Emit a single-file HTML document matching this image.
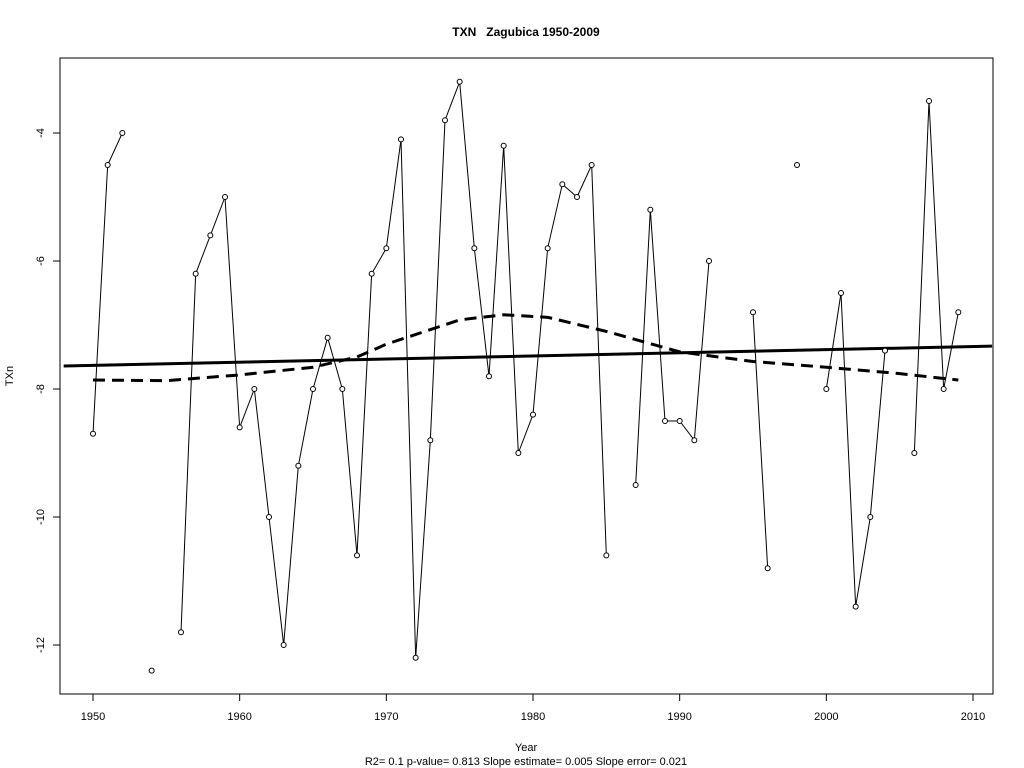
<!DOCTYPE html>
<html><head><meta charset="utf-8"><style>
body{margin:0;background:#fff}
svg{display:block;font-family:"Liberation Sans",Arial,sans-serif}
</style></head><body>
<svg id="chart" width="1024" height="768">
<rect x="0" y="0" width="1024" height="768" fill="#fff"/>
<text x="526" y="36" text-anchor="middle" font-size="12" font-weight="bold" xml:space="preserve">TXN   Zagubica 1950-2009</text>
<rect x="60" y="58" width="933" height="636" fill="none" stroke="#000"/>
<text x="526" y="751" text-anchor="middle" font-size="11">Year</text>
<text x="526" y="765" text-anchor="middle" font-size="11">R2= 0.1  p-value= 0.813  Slope estimate= 0.005  Slope error= 0.021</text>
<text transform="translate(13,376) rotate(-90)" text-anchor="middle" font-size="11">TXn</text>
<g id="axes"></g><g id="marks"></g>
</svg>
<script>
const years=[1950,1951,1952,1953,1954,1955,1956,1957,1958,1959,1960,1961,1962,1963,1964,1965,1966,1967,1968,1969,1970,1971,1972,1973,1974,1975,1976,1977,1978,1979,1980,1981,1982,1983,1984,1985,1986,1987,1988,1989,1990,1991,1992,1993,1994,1995,1996,1997,1998,1999,2000,2001,2002,2003,2004,2005,2006,2007,2008,2009];
const txn=[-8.7,-4.5,-4.0,null,-12.4,null,-11.8,-6.2,-5.6,-5.0,-8.6,-8.0,-10.0,-12.0,-9.2,-8.0,-7.2,-8.0,-10.6,-6.2,-5.8,-4.1,-12.2,-8.8,-3.8,-3.2,-5.8,-7.8,-4.2,-9.0,-8.4,-5.8,-4.8,-5.0,-4.5,-10.6,null,-9.5,-5.2,-8.5,-8.5,-8.8,-6.0,null,null,-6.8,-10.8,null,-4.5,null,-8.0,-6.5,-11.4,-10.0,-7.4,null,-9.0,-3.5,-8.0,-6.8];
const trendYears=[1948,2011.3];
const trendVals=[-7.64,-7.33];
const smoothYears=[1950,1955,1960,1965,1968,1970,1975,1978,1981,1985,1990,1995,2000,2005,2009];
const smoothVals=[-7.86,-7.87,-7.78,-7.66,-7.5,-7.3,-6.92,-6.84,-6.88,-7.1,-7.42,-7.57,-7.66,-7.76,-7.86];
const xTicks=[1950,1960,1970,1980,1990,2000,2010];
const yTicks=[-4,-6,-8,-10,-12];
const NS='http://www.w3.org/2000/svg';
const X=v=>93+(v-1950)*(880/60);
const Y=v=>133+(-4-v)*64;
function mk(t,a,p){const e=document.createElementNS(NS,t);for(const k in a)e.setAttribute(k,a[k]);p.appendChild(e);return e;}
const ax=document.getElementById('axes'),mg=document.getElementById('marks');
xTicks.forEach(t=>{
 const l=mk('line',{x1:X(t),x2:X(t),y1:694,y2:701,stroke:'#000'},ax);
 
 
 const s=mk('text',{x:X(t),y:720,'text-anchor':'middle','font-size':11},ax);s.textContent=t;
 
 
});
yTicks.forEach(t=>{
 const l=mk('line',{x1:53,x2:60,y1:Y(t),y2:Y(t),stroke:'#000'},ax);
 
 
 const s=mk('text',{transform:`translate(44,${Y(t)}) rotate(-90)`,'text-anchor':'middle','font-size':11},ax);s.textContent=t;
 
 
});
for(let i=1;i<years.length;i++){
 if(txn[i]==null||txn[i-1]==null)continue;
 const l=mk('line',{x1:X(years[i-1]),y1:Y(txn[i-1]),x2:X(years[i]),y2:Y(txn[i]),stroke:'#000','stroke-width':1},mg);
 
 
}
const tl=mk('line',{x1:X(trendYears[0]),y1:Y(trendVals[0]),x2:X(trendYears[1]),y2:Y(trendVals[1]),stroke:'#000','stroke-width':3},mg);


const sp=mk('polyline',{points:smoothYears.map((y,i)=>X(y)+','+Y(smoothVals[i])).join(' '),fill:'none',stroke:'#000','stroke-width':3,'stroke-dasharray':'12,7'},mg);


years.forEach((y,i)=>{
 if(txn[i]==null)return;
 const c=mk('circle',{cx:X(y),cy:Y(txn[i]),r:2.5,fill:'#fff',stroke:'#000','stroke-width':1},mg);
 
 
});
</script>
</body></html>
